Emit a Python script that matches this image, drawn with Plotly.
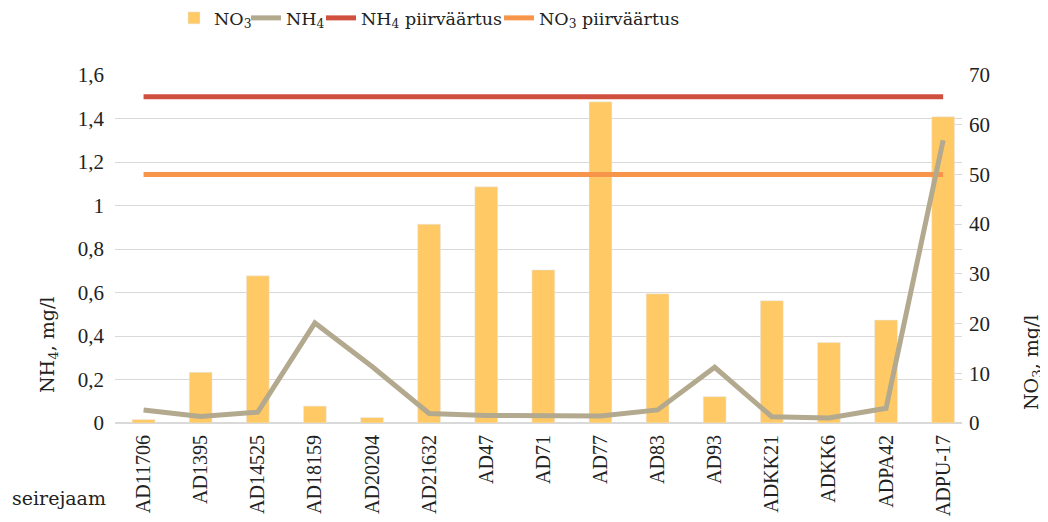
import plotly.graph_objects as go

stations = ["AD11706", "AD1395", "AD14525", "AD18159", "AD20204", "AD21632", "AD47",
            "AD71", "AD77", "AD83", "AD93", "ADKK21", "ADKK6", "ADPA42", "ADPU-17"]
no3 = [0.7, 10.2, 29.6, 3.4, 1.1, 40.0, 47.5, 30.8, 64.6, 26.0, 5.3, 24.6, 16.2, 20.7, 61.6]
nh4 = [0.06, 0.03, 0.05, 0.46, 0.26, 0.044, 0.035, 0.035, 0.032, 0.06, 0.256, 0.029, 0.023, 0.068, 1.30]
nh4_limit = 1.5
no3_limit = 50

NUM_FONT = "Liberation Serif, serif"
TXT_FONT = "DejaVu Serif, serif"
INK = "#222222"
W, H = 1048, 522
# page body has an 8px margin, so everything is shifted up/left by 8
L, R, T, B = 107, 954, 67, 415


def px_x(x):
    return (x - 8 - L) / (R - L)


def px_y(y):
    return (B - (y - 8)) / (B - T)


def legend_at(text_x):
    # one small legend per entry so the spacing follows the reference
    return dict(orientation="h", x=(text_x - 47) / W, xanchor="left", xref="container",
                y=1 - 10 / H, yanchor="middle", yref="container", itemwidth=30,
                font=dict(family=TXT_FONT, size=17.5, color=INK), bgcolor="rgba(0,0,0,0)")


fig = go.Figure()
# NO3 on the primary (right-side) axis so the NH4 line on y2 draws above the bars
fig.add_trace(go.Bar(
    x=stations, y=no3, name="NO<sub>3</sub>", yaxis="y", legend="legend",
    marker_color="#FFC966", width=0.4,
))
fig.add_trace(go.Scatter(
    x=stations, y=nh4, name="NH<sub>4</sub>", mode="lines", yaxis="y2", legend="legend2",
    line=dict(color="#B3A98F", width=5),
))
fig.add_trace(go.Scatter(
    x=stations, y=[nh4_limit] * len(stations), name="NH<sub>4</sub> piirväärtus", mode="lines",
    yaxis="y2", legend="legend3", line=dict(color="#D0503F", width=5),
))
fig.add_trace(go.Scatter(
    x=stations, y=[no3_limit] * len(stations), name="NO<sub>3</sub> piirväärtus", mode="lines",
    yaxis="y", legend="legend4", line=dict(color="#F7964A", width=5),
))

fig.update_layout(
    width=W, height=H,
    margin=dict(l=L, r=W - R, t=T, b=H - B, autoexpand=False),
    plot_bgcolor="white", paper_bgcolor="white",
    font=dict(family=TXT_FONT, size=18, color=INK),
    separators=", ",
    showlegend=True,
    legend=legend_at(213),
    legend2=legend_at(285),
    legend3=legend_at(360),
    legend4=legend_at(538),
    xaxis=dict(
        range=[-0.5, 14.33], tickangle=-90, ticklabelstandoff=7,
        showgrid=False, showline=False, ticks="",
        tickfont=dict(family=NUM_FONT, size=20, color=INK),
    ),
    yaxis=dict(
        side="right", range=[0, 70], dtick=10, showgrid=False,
        zeroline=False, ticks="inside", ticklen=7, tickcolor="#D9D9D9",
        ticklabelstandoff=6,
        tickfont=dict(family=NUM_FONT, size=21, color=INK),
    ),
    yaxis2=dict(
        overlaying="y", side="left", range=[0, 1.6], dtick=0.2,
        showgrid=True, gridcolor="#D9D9D9", gridwidth=1, zeroline=True,
        zerolinecolor="#D9D9D9", ticks="", ticklabelstandoff=10,
        tickfont=dict(family=NUM_FONT, size=21, color=INK),
    ),
    annotations=[
        dict(text="NH<sub>4</sub>, mg/l", x=px_x(48), y=px_y(345), xref="paper", yref="paper",
             xanchor="center", yanchor="middle",
             textangle=-90, showarrow=False, font=dict(family=TXT_FONT, size=19)),
        dict(text="NO<sub>3</sub>, mg/l", x=px_x(1032), y=px_y(363), xref="paper", yref="paper",
             xanchor="center", yanchor="middle",
             textangle=-90, showarrow=False, font=dict(family=TXT_FONT, size=19)),
        dict(text="seirejaam", x=px_x(10), y=px_y(498), xref="paper", yref="paper",
             xanchor="left", yanchor="middle", showarrow=False,
             font=dict(family=TXT_FONT, size=19)),
    ],
)

fig.write_html("out.html")
